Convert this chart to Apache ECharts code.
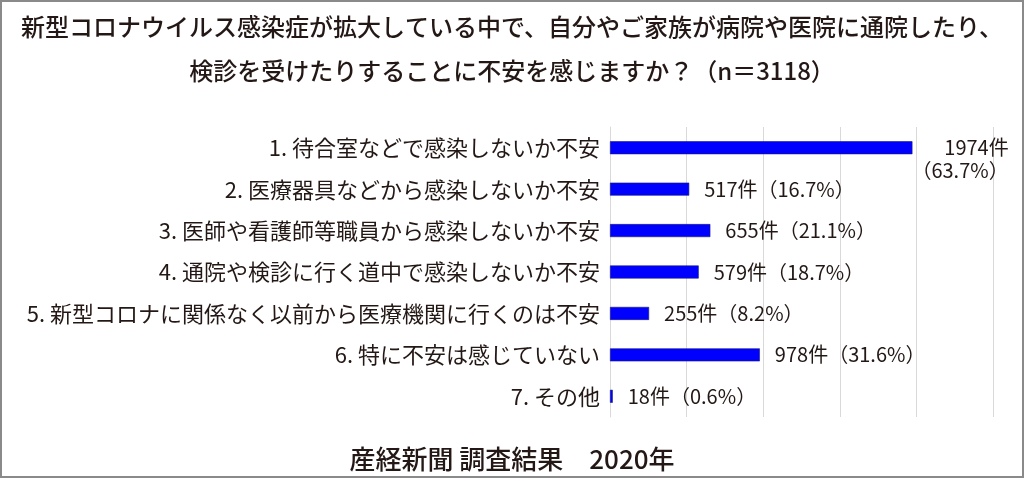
<!DOCTYPE html>
<html>
<head>
<meta charset="utf-8">
<script src="https://cdn.jsdelivr.net/npm/echarts@6/dist/echarts.min.js"></script>
<style>
  html, body { margin: 0; padding: 0; background: #ffffff; }
  #chart { width: 1024px; height: 478px; }
</style>
</head>
<body>
<div id="chart"></div>
<script>
// Survey answers (top to bottom), response counts and shares of n=3118
const categories = [
  '1. 待合室などで感染しないか不安',
  '2. 医療器具などから感染しないか不安',
  '3. 医師や看護師等職員から感染しないか不安',
  '4. 通院や検診に行く道中で感染しないか不安',
  '5. 新型コロナに関係なく以前から医療機関に行くのは不安',
  '6. 特に不安は感じていない',
  '7. その他'
];
const counts = [1974, 517, 655, 579, 255, 978, 18];
const percents = ['63.7', '16.7', '21.1', '18.7', '8.2', '31.6', '0.6'];

const titleLines = [
  '新型コロナウイルス感染症が拡大している中で、自分やご家族が病院や医院に通院したり、',
  '検診を受けたりすることに不安を感じますか？（n＝3118）'
];
const sourceText = '産経新聞 調査結果　2020年';

const FONT = '"Noto Sans CJK JP", "Noto Sans", sans-serif';
const INK = '#231815';

const chart = echarts.init(document.getElementById('chart'), null, { renderer: 'canvas' });

// Largest answer gets its share on a second line, right-aligned under the count
const seriesData = counts.map((v, i) => {
  const item = { value: v };
  if (i === 0) {
    item.label = {
      formatter: '{r|' + counts[i] + '件}\n{r|（' + percents[i] + '%）}',
      offset: [-16, 11],
      rich: { r: { align: 'right', fontSize: 20, lineHeight: 23, color: INK, fontFamily: FONT } }
    };
  }
  return item;
});

const titleStyle = { fontFamily: FONT, fontSize: 24, fontWeight: 500, color: INK };

chart.setOption({
  backgroundColor: '#ffffff',
  animation: false,
  title: [
    { text: titleLines[0], left: 'center', top: 15, padding: 0, textStyle: titleStyle },
    { text: titleLines[1], left: 'center', top: 59, padding: 0, textStyle: titleStyle },
    {
      text: sourceText,
      left: 'center',
      top: 446,
      padding: 0,
      textStyle: { fontFamily: FONT, fontSize: 26, fontWeight: 500, color: INK }
    }
  ],
  grid: { left: 610, right: 31, top: 127, height: 290, containLabel: false },
  xAxis: {
    type: 'value',
    min: 0,
    max: 2500,
    interval: 500,
    axisLabel: { show: false },
    axisLine: { show: false },
    axisTick: { show: false },
    splitLine: { show: true, lineStyle: { color: '#d9d9d9', width: 1 } }
  },
  yAxis: {
    type: 'category',
    data: categories,
    inverse: true,
    axisLine: { show: true, lineStyle: { color: '#d9d9d9', width: 1 } },
    axisTick: { show: false },
    axisLabel: { margin: 10, fontFamily: FONT, fontSize: 22, color: INK }
  },
  series: [{
    type: 'bar',
    data: seriesData,
    barWidth: 13,
    itemStyle: { color: '#0000ff', borderColor: '#1a1a80', borderWidth: 0.6 },
    label: {
      show: true,
      position: 'right',
      distance: 15,
      fontFamily: FONT,
      fontSize: 20,
      color: INK,
      formatter: (p) => counts[p.dataIndex] + '件（' + percents[p.dataIndex] + '%）'
    }
  }],
  graphic: [{
    type: 'rect',
    shape: { x: 1, y: 1, width: 1022, height: 476 },
    style: { fill: 'none', stroke: '#8a8a8a', lineWidth: 2 },
    silent: true,
    z: 100
  }]
});
</script>
</body>
</html>
